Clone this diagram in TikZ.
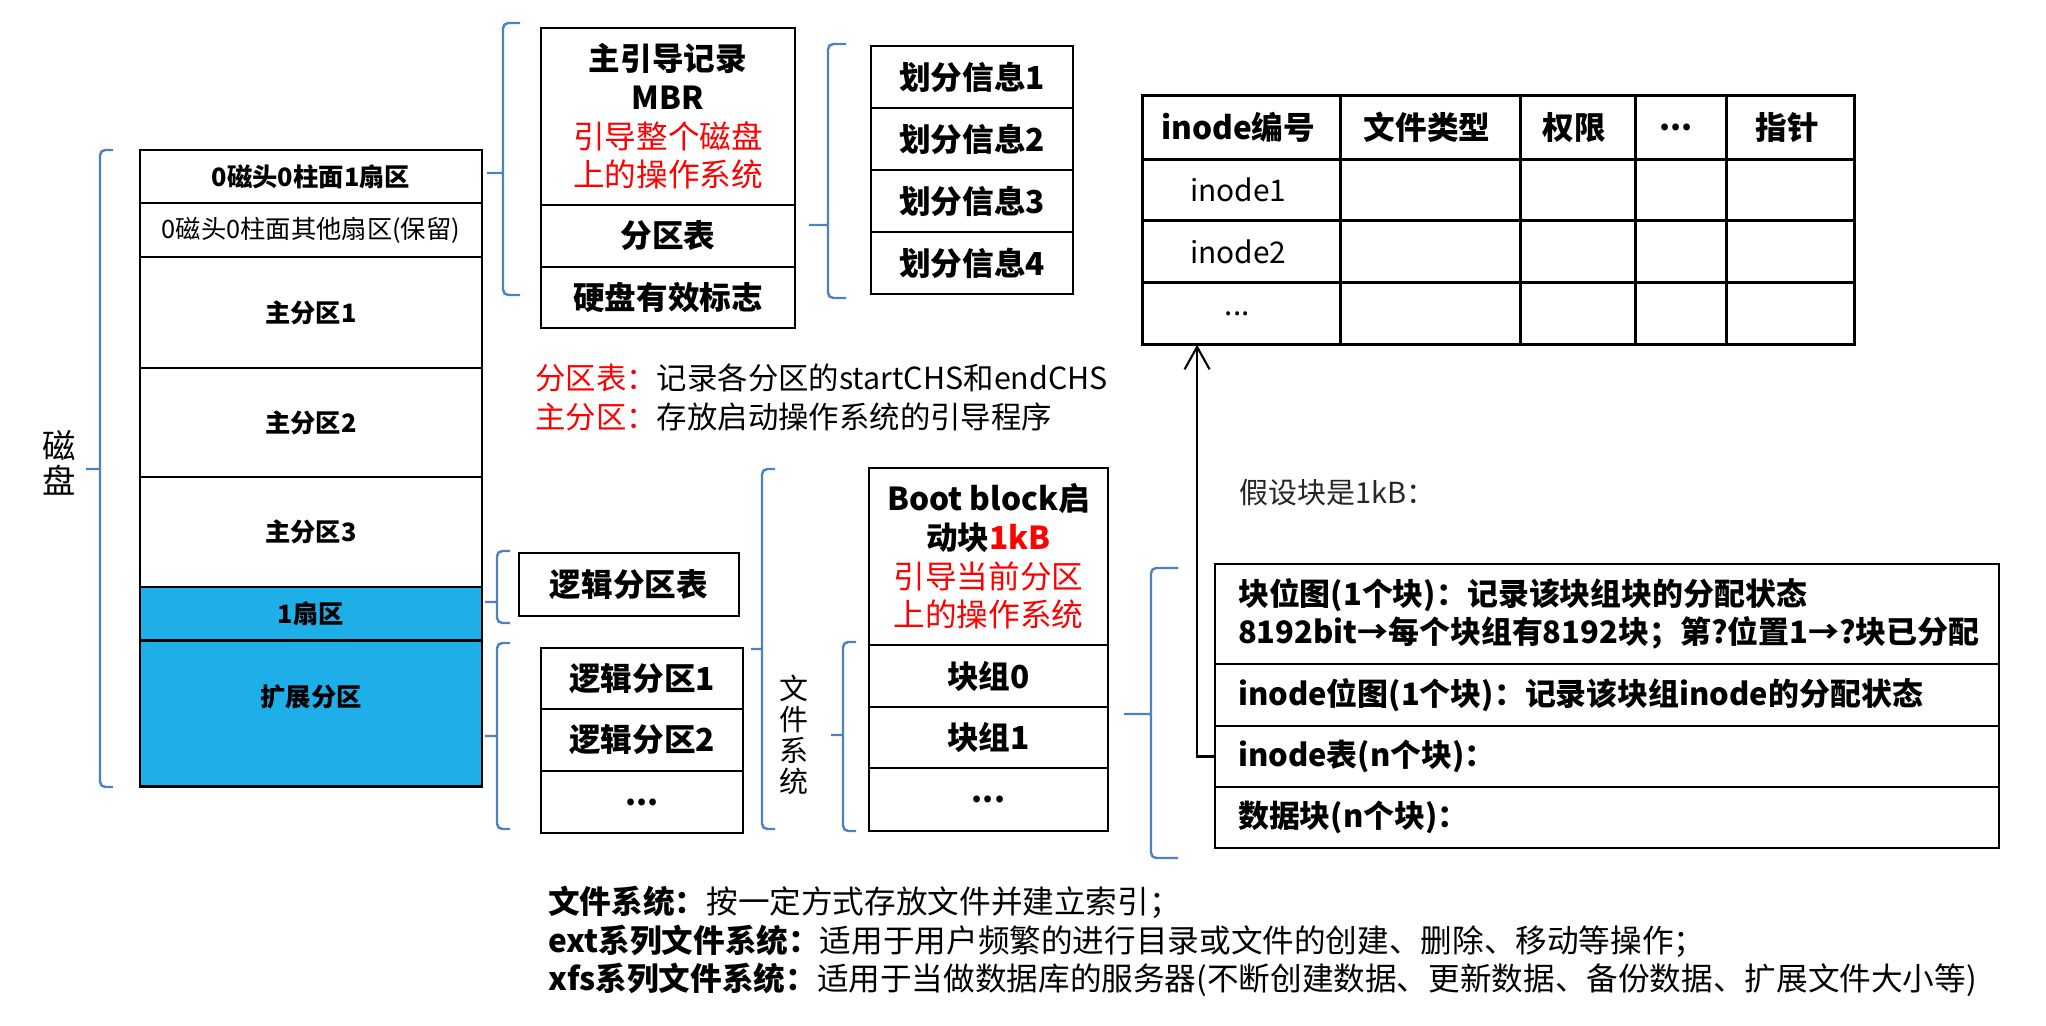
\documentclass[tikz,border=0pt]{standalone}
\usepackage{fontspec}
\setmainfont{Noto Sans CJK SC}
\usetikzlibrary{positioning,matrix,arrows.meta}

\definecolor{braceblue}{RGB}{79,129,189}
\definecolor{diskblue}{RGB}{30,174,232}

\tikzset{
  cell/.style={draw, line width=1.6pt, inner sep=0pt, outer sep=0pt, align=center},
  disk/.style={cell, minimum width=6.84cm, font=\fontsize{14.4}{17}\selectfont},
  bgrow/.style={cell, text width=14.76cm, inner xsep=0.46cm, align=left, font=\fontsize{17.6}{21.6}\selectfont\bfseries},
  brace/.style={draw=braceblue, line width=1.4pt, rounded corners=3pt},
  arr/.style={-{Straight Barb[length=4.5mm,width=5mm]}, line width=1.2pt},
  plain/.style={inner sep=0pt},
}

\begin{document}
\begin{tikzpicture}[x=0.02cm, y=-0.02cm, font=\fontsize{18}{22}\selectfont]
  \useasboundingbox (0,0) rectangle (2046,1026);

  % disk column
  \node[disk, minimum height=1.06cm, anchor=north] (d0) at (311,150) {\textbf{0磁头0柱面1扇区}};
  \node[disk, minimum height=1.08cm, below=0pt of d0] (d1) {0磁头0柱面其他扇区(保留)};
  \node[disk, minimum height=2.22cm, below=0pt of d1] (p1) {\textbf{主分区1}};
  \node[disk, minimum height=2.18cm, below=0pt of p1] (p2) {\textbf{主分区2}};
  \node[disk, minimum height=2.20cm, below=0pt of p2] (p3) {\textbf{主分区3}};
  \node[disk, minimum height=1.08cm, fill=diskblue, below=0pt of p3] (s1) {\textbf{1扇区}};
  \node[disk, minimum height=2.92cm, fill=diskblue, text depth=0.75cm, below=0pt of s1] (ext) {\textbf{扩展分区}};
  \node[plain, align=center, font=\fontsize{19}{20}\selectfont] (disklbl) at (59,462.5) {磁\\盘};

  % MBR
  \node[cell, minimum width=5.08cm, minimum height=3.54cm, anchor=north] (mbr) at (668,28)
    {\textbf{主引导记录}\\\textbf{MBR}\\\textcolor{red}{引导整个磁盘}\\\textcolor{red}{上的操作系统}};
  \node[cell, minimum width=5.08cm, minimum height=1.24cm, below=0pt of mbr] (ptab) {\textbf{分区表}};
  \node[cell, minimum width=5.08cm, minimum height=1.22cm, below=0pt of ptab] (sig) {\textbf{硬盘有效标志}};

  % partition entries
  \node[cell, minimum width=4.04cm, minimum height=1.24cm, anchor=north] (pi1) at (972,46) {\textbf{划分信息1}};
  \node[cell, minimum width=4.04cm, minimum height=1.24cm, below=0pt of pi1] (pi2) {\textbf{划分信息2}};
  \node[cell, minimum width=4.04cm, minimum height=1.24cm, below=0pt of pi2] (pi3) {\textbf{划分信息3}};
  \node[cell, minimum width=4.04cm, minimum height=1.24cm, below=0pt of pi3] (pi4) {\textbf{划分信息4}};

  \node[plain, anchor=west, align=left, font=\fontsize{17.3}{22.2}\selectfont] (notes) at (535,397.5)
    {\textcolor{red}{分区表：}记录各分区的startCHS和endCHS\\\textcolor{red}{主分区：}存放启动操作系统的引导程序};

  % inode table
  \matrix (itab) [matrix of nodes, nodes in empty cells, anchor=north west, inner sep=0pt,
    column sep=-1.6pt, row sep=-1.6pt,
    nodes={cell, anchor=center, font=\fontsize{17}{20}\selectfont},
    column 1/.style={nodes={minimum width=3.96cm}},
    column 2/.style={nodes={minimum width=3.6cm}},
    column 3/.style={nodes={minimum width=2.3cm}},
    column 4/.style={nodes={minimum width=1.82cm}},
    column 5/.style={nodes={minimum width=2.56cm}},
    row 1/.style={nodes={minimum height=1.28cm, font=\fontsize{18}{22}\selectfont\bfseries}},
    row 2/.style={nodes={minimum height=1.22cm}},
    row 3/.style={nodes={minimum height=1.24cm}},
    row 4/.style={nodes={minimum height=1.24cm}}] at (1141,94) {
    inode编号 & 文件类型 & 权限 & ... & 指针 \\
    inode1 & & & & \\
    inode2 & & & & \\
    ... & & & & \\
  };

  % extended partition
  \node[cell, minimum width=4.40cm, minimum height=1.26cm, anchor=north] (ltab) at (629,553) {\textbf{逻辑分区表}};
  \node[cell, minimum width=4.04cm, minimum height=1.22cm, anchor=north] (l1) at (642,648) {\textbf{逻辑分区1}};
  \node[cell, minimum width=4.04cm, minimum height=1.24cm, below=0pt of l1] (l2) {\textbf{逻辑分区2}};
  \node[cell, minimum width=4.04cm, minimum height=1.24cm, below=0pt of l2] (ldots) {\textbf{...}};
  \node[plain, align=center, font=\fontsize{16.5}{17.6}\selectfont] (fslbl) at (794,735) {文\\件\\系\\统};

  % file system
  \node[cell, minimum width=4.78cm, minimum height=3.54cm, anchor=north] (boot) at (988.5,468)
    {\textbf{Boot block启}\\\textbf{动块\textcolor{red}{1kB}}\\\textcolor{red}{引导当前分区}\\\textcolor{red}{上的操作系统}};
  \node[cell, minimum width=4.78cm, minimum height=1.24cm, below=0pt of boot] (g0) {\textbf{块组0}};
  \node[cell, minimum width=4.78cm, minimum height=1.22cm, below=0pt of g0] (g1) {\textbf{块组1}};
  \node[cell, minimum width=4.78cm, minimum height=1.26cm, below=0pt of g1] (gdots) {\textbf{...}};

  % block group
  \node[plain, anchor=west, font=\fontsize{16.5}{20}\selectfont, text=black!85] (assume) at (1239,493) {假设块是1kB：};
  \node[bgrow, minimum height=2.0cm, anchor=north] (bmap) at (1607,564)
    {块位图(1个块)：记录该块组块的分配状态\\8192bit→每个块组有8192块；第?位置1→?块已分配};
  \node[bgrow, minimum height=1.24cm, below=0pt of bmap] (imap) {inode位图(1个块)：记录该块组inode的分配状态};
  \node[bgrow, minimum height=1.22cm, below=0pt of imap] (dinode) {inode表(n个块)：};
  \node[bgrow, minimum height=1.22cm, below=0pt of dinode] (dblk) {数据块(n个块)：};

  \draw[arr] (dinode.west) -- ++(-18,0) coordinate (bend) -- (bend |- itab-4-1.south);

  % braces
  \draw[brace] (113,150) -- (100,150) -- (100,787) -- (113,787) (100,469) -- (86,469);
  \draw[brace] (520,23) -- (503,23) -- (503,295) -- (520,295) (503,173) -- (487,173);
  \draw[brace] (846,44) -- (828,44) -- (828,298) -- (846,298) (828,225) -- (809,225);
  \draw[brace] (510,551) -- (497,551) -- (497,623) -- (510,623) (497,602) -- (485,602);
  \draw[brace] (510,643) -- (497,643) -- (497,829) -- (510,829) (497,736) -- (485,736);
  \draw[brace] (775,469) -- (762,469) -- (762,829) -- (775,829) (762,649) -- (751,649);
  \draw[brace] (856,642) -- (843,642) -- (843,831) -- (856,831) (843,735) -- (831,735);
  \draw[brace] (1178,568) -- (1151,568) -- (1151,858) -- (1178,858) (1151,714) -- (1124,714);

  \node[plain, anchor=west, align=left] (fsnote) at (548,941.5)
    {\textbf{文件系统：}按一定方式存放文件并建立索引；\\
     \textbf{ext系列文件系统：}适用于用户频繁的进行目录或文件的创建、删除、移动等操作；\\
     \textbf{xfs系列文件系统：}适用于当做数据库的服务器(不断创建数据、更新数据、备份数据、扩展文件大小等)};
\end{tikzpicture}
\end{document}
